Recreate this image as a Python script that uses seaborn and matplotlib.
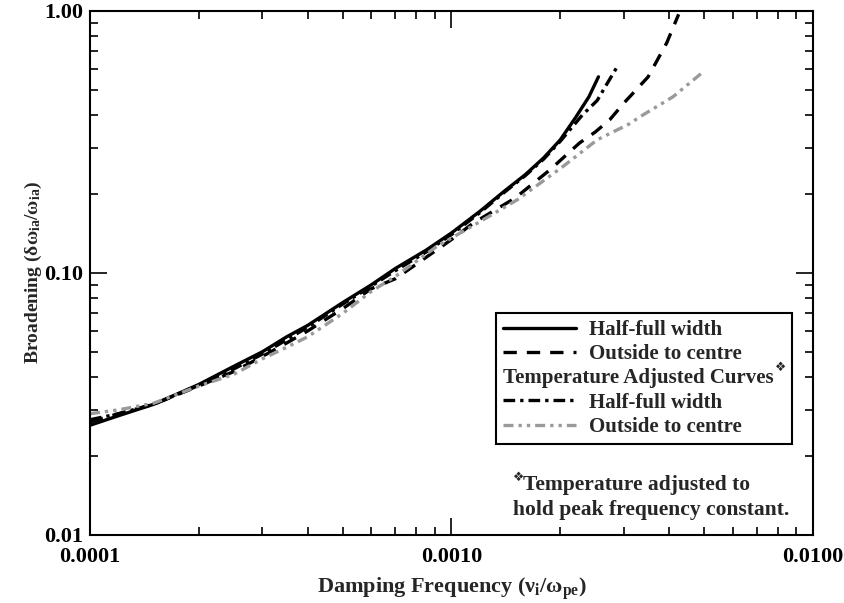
import numpy as np
import pandas as pd
import matplotlib
matplotlib.use("Agg")
import matplotlib.pyplot as plt
import seaborn as sns
from matplotlib.lines import Line2D
from matplotlib.ticker import FormatStrFormatter, NullFormatter, LogLocator

# ---- data ----
x_solid = [1.0e-4, 1.2e-4, 1.5e-4, 2.0e-4, 2.5e-4, 3.0e-4, 3.5e-4, 4.0e-4, 5.0e-4, 6.0e-4,
           7.0e-4, 8.5e-4, 1.0e-3, 1.2e-3, 1.4e-3, 1.6e-3, 1.8e-3, 2.0e-3, 2.2e-3, 2.4e-3, 2.55e-3]
y_solid = [0.0262, 0.0285, 0.0315, 0.0375, 0.044, 0.050, 0.057, 0.063, 0.077, 0.090,
           0.104, 0.122, 0.142, 0.172, 0.205, 0.237, 0.275, 0.322, 0.39, 0.47, 0.56]

x_dash = [1.0e-4, 1.2e-4, 1.5e-4, 2.0e-4, 2.5e-4, 3.0e-4, 3.5e-4, 4.0e-4, 5.0e-4, 6.0e-4,
          7.0e-4, 8.0e-4, 1.0e-3, 1.15e-3, 1.5e-3, 1.87e-3, 2.26e-3, 2.5e-3, 2.74e-3, 3.0e-3,
          3.5e-3, 3.94e-3, 4.25e-3]
y_dash = [0.027, 0.029, 0.0315, 0.037, 0.042, 0.048, 0.054, 0.060, 0.073, 0.087,
          0.095, 0.108, 0.134, 0.155, 0.193, 0.247, 0.313, 0.345, 0.384, 0.445,
          0.56, 0.755, 0.97]

x_tadj_half = [1.0e-4, 1.2e-4, 1.5e-4, 2.0e-4, 2.5e-4, 3.0e-4, 4.0e-4, 5.0e-4, 6.0e-4, 7.0e-4,
               8.5e-4, 1.0e-3, 1.2e-3, 1.4e-3, 1.6e-3, 1.8e-3, 2.0e-3, 2.3e-3, 2.53e-3, 2.7e-3, 2.89e-3]
y_tadj_half = [0.0275, 0.029, 0.0315, 0.0372, 0.043, 0.049, 0.062, 0.076, 0.089, 0.102,
               0.120, 0.140, 0.170, 0.203, 0.235, 0.272, 0.318, 0.40, 0.455, 0.53, 0.62]

x_tadj_out = [1.0e-4, 1.2e-4, 1.5e-4, 2.0e-4, 2.5e-4, 3.0e-4, 3.5e-4, 4.0e-4, 5.0e-4, 6.0e-4,
              7.0e-4, 9.1e-4, 1.2e-3, 1.52e-3, 2.03e-3, 2.53e-3, 3.1e-3, 3.32e-3, 4.1e-3, 4.97e-3]
y_tadj_out = [0.029, 0.030, 0.0318, 0.037, 0.041, 0.047, 0.052, 0.057, 0.070, 0.085,
              0.097, 0.126, 0.157, 0.190, 0.254, 0.322, 0.37, 0.394, 0.47, 0.585]

labels = ["Half-full width", "Outside to centre", "Temperature Adjusted Curves",
          "Half-full width", "Outside to centre"]
ornament = "\u2756"
note_lines = ["Temperature adjusted to", "hold peak frequency constant."]

# ---- style ----
sns.set_theme(style="ticks")
fams = ['Liberation Serif', 'DejaVu Sans']
plt.rcParams['font.family'] = fams
plt.rcParams['font.weight'] = 'bold'
plt.rcParams['mathtext.fontset'] = 'custom'
plt.rcParams['mathtext.rm'] = 'Liberation Serif'
plt.rcParams['mathtext.it'] = 'Liberation Serif'
plt.rcParams['mathtext.bf'] = 'Liberation Serif:bold'

fig = plt.figure(figsize=(8.45, 6.03), dpi=100)
ax = fig.add_axes([0.1065, 0.113, 0.8556, 0.869])

grey = "#9a9a9a"
lw = 2.4
styles = [
    (x_solid, y_solid, "black", "-"),
    (x_dash, y_dash, "black", (0, (4, 3))),
    (x_tadj_half, y_tadj_half, "black", (0, (3.5, 1.5, 1, 1.5))),
    (x_tadj_out, y_tadj_out, grey, (0, (3, 1.5, 1, 1.5, 1, 1.5))),
]
for xs, ys, col, ls in styles:
    sns.lineplot(x=xs, y=ys, ax=ax, color=col, linestyle=ls, linewidth=lw,
                 estimator=None, sort=False)

ax.set_xscale('log')
ax.set_yscale('log')
ax.set_xlim(1e-4, 1e-2)
ax.set_ylim(0.01, 1.0)
ax.set_xticks([1e-4, 1e-3, 1e-2])
ax.set_yticks([0.01, 0.1, 1.0])
ax.xaxis.set_major_formatter(FormatStrFormatter('%.4f'))
ax.yaxis.set_major_formatter(FormatStrFormatter('%.2f'))
ax.xaxis.set_minor_locator(LogLocator(base=10, subs=np.arange(2, 10)))
ax.yaxis.set_minor_locator(LogLocator(base=10, subs=np.arange(2, 10)))
ax.xaxis.set_minor_formatter(NullFormatter())
ax.yaxis.set_minor_formatter(NullFormatter())
ax.tick_params(which='both', direction='in', top=True, right=True, width=1.2,
               labelsize=16, colors='black')
ax.tick_params(which='major', length=12)
ax.tick_params(which='minor', length=6)
ax.tick_params(axis='x', which='major', pad=9)
ax.tick_params(axis='y', which='major', pad=5)
for lab in ax.get_xticklabels() + ax.get_yticklabels():
    lab.set_fontweight('bold')
for sp in ax.spines.values():
    sp.set_linewidth(1.5)
    sp.set_color('black')

ax.set_xlabel(r"Damping Frequency ($\mathbf{\nu_i/\omega_{pe}}$)", fontsize=16,
              fontweight='bold', labelpad=6)
ax.set_ylabel(r"Broadening ($\mathbf{\delta\omega_{ia}/\omega_{ia}}$)", fontsize=14,
              fontweight='bold', labelpad=0)

# ---- legend ----
handles = [
    Line2D([], [], color="black", lw=lw, ls=styles[0][3]),
    Line2D([], [], color="black", lw=lw, ls=styles[1][3]),
    Line2D([], [], color="none", lw=0),
    Line2D([], [], color="black", lw=lw, ls=styles[2][3]),
    Line2D([], [], color=grey, lw=lw, ls=styles[3][3]),
]
leg_fs = 15
hlen, hpad = 3.5, 0.6
leg = ax.legend(handles, labels, loc='upper left', bbox_to_anchor=(0.5615, 0.4237, 0.4094, 0),
                mode='expand', fancybox=False, frameon=True, edgecolor='black', framealpha=1,
                prop={'family': fams, 'weight': 'bold', 'size': leg_fs},
                handlelength=hlen, handletextpad=hpad, labelspacing=0.2, borderpad=0.35,
                borderaxespad=0)
leg.get_frame().set_linewidth(1.5)
fs_px = leg_fs * fig.dpi / 72
header = leg.get_texts()[2]
header.set_position((-(hlen + hpad) * fs_px, 0))

# small raised ornaments after the header and before the note
fig.canvas.draw()
bb = header.get_window_extent()
W, H = fig.bbox.width, fig.bbox.height
fig.text(bb.x1 / W + 0.001, (bb.y1 - 6) / H, ornament, fontsize=9, family=['DejaVu Sans'],
         fontweight='bold', va='bottom', ha='left')

note_x = 0.585
t2 = ax.text(note_x, 0.028, note_lines[1], transform=ax.transAxes, fontsize=15.5,
             fontweight='bold', family=fams, va='bottom', ha='left')
t1 = ax.text(note_x + 0.0135, 0.028 + 0.048, note_lines[0], transform=ax.transAxes,
             fontsize=15.5, fontweight='bold', family=fams, va='bottom', ha='left')
fig.canvas.draw()
nb = t1.get_window_extent()
fig.text((nb.x0 - 10) / W, (nb.y1 - 9) / H, ornament, fontsize=9, family=['DejaVu Sans'],
         fontweight='bold', va='bottom', ha='left')

fig.savefig("out.png", dpi=100)
